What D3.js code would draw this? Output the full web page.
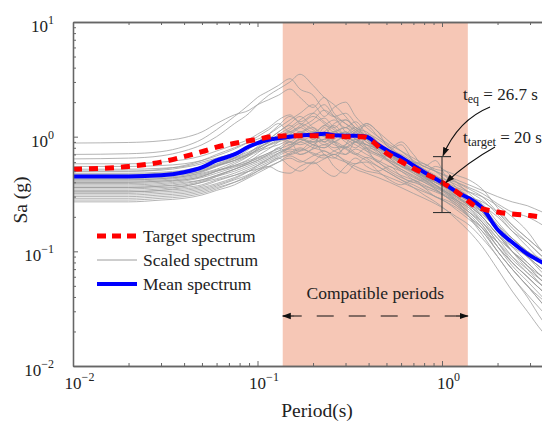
<!DOCTYPE html>
<html><head><meta charset="utf-8">
<script src="https://cdn.jsdelivr.net/npm/d3@7"></script>
<style>body{margin:0;background:#fff}svg{display:block}</style>
</head><body>
<svg id="c" width="542" height="424" style="font-family:'Liberation Serif','Times New Roman',Tinos,'DejaVu Serif',serif"></svg>
<script>
// ---- data ----
const periods = [0.01,0.02,0.03,0.04,0.05,0.06,0.075,0.09,0.1,0.115,0.13,0.15,0.17,0.2,0.23,0.26,0.3,0.34,0.39,0.45,0.52,0.6,0.7,0.8,0.92,1.05,1.2,1.4,1.65,2.0,2.4,2.9,3.5,4.2];
const scaledSpectra = [
[0.88,0.89,0.92,0.98,1.1,1.3,1.55,1.7,1.9,2.1,2.3,2.6,2.2,1.8,2.2,1.6,1.3,1.1,0.9,0.75,0.6,0.5,0.42,0.36,0.33,0.3,0.26,0.2,0.15,0.1,0.07,0.05,0.038,0.03],
[0.70,0.71,0.74,0.82,0.95,1.15,1.5,1.9,2.2,2.5,2.8,3.2,2.6,2.3,1.7,1.5,1.6,1.3,1.0,0.85,0.7,0.62,0.55,0.45,0.4,0.36,0.32,0.28,0.22,0.15,0.11,0.08,0.06,0.05],
[0.64,0.65,0.68,0.75,0.85,1.0,1.3,1.6,1.9,2.3,2.6,3.0,3.5,2.8,2.2,1.9,1.5,1.2,1.1,0.9,0.72,0.6,0.5,0.45,0.38,0.34,0.3,0.25,0.2,0.14,0.1,0.075,0.055,0.045],
[0.58,0.58,0.60,0.63,0.68,0.75,0.85,0.95,1.05,1.2,1.4,1.55,1.35,1.6,1.9,1.5,1.2,1.35,1.05,0.85,0.72,0.64,0.55,0.5,0.44,0.4,0.36,0.33,0.3,0.25,0.2,0.15,0.1,0.08],
[0.55,0.55,0.56,0.58,0.62,0.68,0.78,0.9,1.0,1.15,1.3,1.1,1.25,1.5,1.3,1.1,1.2,1.0,0.95,0.8,0.7,0.62,0.5,0.45,0.42,0.38,0.35,0.3,0.27,0.22,0.17,0.13,0.1,0.08],
[0.52,0.52,0.53,0.55,0.6,0.65,0.72,0.8,0.88,0.95,1.1,1.3,1.5,1.2,1.05,1.3,1.4,1.15,0.95,0.75,0.62,0.55,0.5,0.42,0.36,0.32,0.28,0.24,0.18,0.12,0.08,0.06,0.045,0.035],
[0.50,0.50,0.51,0.54,0.58,0.64,0.72,0.82,0.9,1.0,0.95,1.1,1.2,1.05,1.25,1.15,0.95,1.1,1.25,1.0,0.82,0.68,0.58,0.52,0.46,0.4,0.34,0.3,0.26,0.18,0.13,0.1,0.08,0.065],
[0.48,0.48,0.49,0.51,0.55,0.6,0.66,0.74,0.8,0.88,1.0,0.9,1.05,1.2,1.0,0.9,1.05,1.2,0.95,0.8,0.75,0.7,0.6,0.52,0.45,0.4,0.34,0.28,0.22,0.16,0.12,0.09,0.07,0.055],
[0.46,0.46,0.47,0.49,0.52,0.57,0.64,0.7,0.76,0.85,0.92,1.05,0.95,0.9,1.1,1.25,1.0,0.9,0.85,0.78,0.65,0.55,0.5,0.46,0.4,0.36,0.31,0.27,0.2,0.14,0.1,0.075,0.06,0.05],
[0.44,0.44,0.45,0.47,0.5,0.56,0.62,0.7,0.78,0.9,1.0,0.85,0.95,1.1,0.9,1.05,0.9,0.8,0.95,0.85,0.7,0.58,0.48,0.42,0.38,0.33,0.3,0.26,0.21,0.16,0.13,0.1,0.085,0.07],
[0.42,0.42,0.43,0.45,0.48,0.52,0.6,0.68,0.74,0.8,0.85,0.95,1.1,1.0,0.85,0.95,1.1,0.95,0.8,0.7,0.62,0.56,0.5,0.44,0.38,0.32,0.27,0.22,0.17,0.11,0.075,0.055,0.04,0.03],
[0.41,0.41,0.42,0.44,0.47,0.51,0.56,0.62,0.66,0.72,0.8,0.9,0.85,0.95,1.05,0.9,0.8,0.9,1.0,0.85,0.7,0.6,0.52,0.45,0.4,0.36,0.3,0.25,0.2,0.14,0.11,0.09,0.07,0.06],
[0.40,0.40,0.41,0.42,0.45,0.5,0.56,0.64,0.72,0.85,0.95,1.1,1.0,0.9,0.95,1.1,0.95,0.85,0.75,0.68,0.6,0.52,0.45,0.4,0.35,0.3,0.25,0.21,0.16,0.1,0.07,0.05,0.035,0.025],
[0.38,0.38,0.39,0.41,0.44,0.48,0.54,0.6,0.65,0.72,0.78,0.85,0.95,0.85,0.8,0.9,1.0,0.9,0.78,0.7,0.66,0.58,0.5,0.46,0.42,0.38,0.33,0.29,0.25,0.2,0.15,0.12,0.09,0.075],
[0.37,0.37,0.38,0.40,0.42,0.46,0.52,0.58,0.62,0.7,0.75,0.8,0.9,1.0,0.9,0.8,0.85,0.95,0.85,0.72,0.6,0.52,0.46,0.41,0.37,0.33,0.28,0.23,0.18,0.12,0.085,0.065,0.05,0.04],
[0.36,0.36,0.37,0.38,0.41,0.45,0.5,0.56,0.6,0.66,0.72,0.78,0.75,0.85,0.95,0.85,0.78,0.7,0.8,0.75,0.65,0.55,0.48,0.43,0.4,0.35,0.3,0.26,0.22,0.17,0.13,0.1,0.08,0.065],
[0.35,0.35,0.36,0.37,0.40,0.43,0.48,0.54,0.58,0.64,0.7,0.8,0.9,0.8,0.75,0.7,0.8,0.9,0.75,0.6,0.52,0.46,0.42,0.38,0.34,0.31,0.27,0.22,0.17,0.11,0.08,0.06,0.045,0.035],
[0.33,0.33,0.34,0.35,0.37,0.41,0.46,0.52,0.56,0.62,0.68,0.75,0.7,0.78,0.85,0.75,0.7,0.78,0.7,0.62,0.55,0.5,0.44,0.4,0.36,0.33,0.29,0.25,0.2,0.14,0.1,0.08,0.06,0.05],
[0.32,0.32,0.33,0.34,0.36,0.39,0.44,0.5,0.54,0.6,0.66,0.7,0.78,0.72,0.68,0.75,0.82,0.72,0.65,0.55,0.48,0.42,0.38,0.34,0.3,0.27,0.23,0.19,0.15,0.1,0.07,0.05,0.035,0.025],
[0.30,0.30,0.31,0.32,0.34,0.37,0.42,0.47,0.52,0.58,0.64,0.72,0.8,0.7,0.65,0.7,0.62,0.58,0.66,0.6,0.5,0.44,0.4,0.37,0.34,0.3,0.26,0.22,0.18,0.13,0.1,0.075,0.055,0.045],
[0.29,0.29,0.30,0.31,0.33,0.36,0.4,0.45,0.5,0.55,0.6,0.65,0.6,0.68,0.75,0.66,0.6,0.55,0.5,0.48,0.44,0.4,0.36,0.33,0.3,0.27,0.24,0.2,0.16,0.11,0.08,0.06,0.045,0.035],
[0.27,0.27,0.28,0.29,0.31,0.34,0.38,0.44,0.48,0.54,0.6,0.68,0.62,0.58,0.64,0.7,0.6,0.52,0.48,0.44,0.4,0.36,0.32,0.29,0.26,0.23,0.2,0.17,0.13,0.09,0.06,0.042,0.03,0.022],
[0.47,0.47,0.48,0.5,0.53,0.58,0.65,0.72,0.8,0.9,1.0,1.15,1.3,1.15,1.0,1.1,1.2,1.05,0.9,0.8,0.72,0.65,0.58,0.5,0.45,0.42,0.4,0.36,0.32,0.26,0.22,0.2,0.17,0.14],
[0.43,0.43,0.44,0.46,0.5,0.55,0.62,0.72,0.82,0.95,1.1,1.25,1.1,1.3,1.45,1.2,1.05,1.15,1.3,1.1,0.9,0.75,0.62,0.55,0.5,0.45,0.4,0.35,0.3,0.22,0.16,0.12,0.09,0.07],
[0.39,0.39,0.40,0.42,0.45,0.5,0.58,0.68,0.78,0.9,1.05,1.2,1.4,1.6,1.35,1.2,1.4,1.2,1.0,0.82,0.68,0.58,0.5,0.44,0.38,0.33,0.28,0.24,0.19,0.13,0.09,0.065,0.05,0.04],
[0.34,0.34,0.35,0.37,0.4,0.45,0.52,0.6,0.68,0.78,0.9,1.05,1.2,1.4,1.7,1.5,1.3,1.15,1.0,0.85,0.7,0.6,0.52,0.46,0.4,0.36,0.32,0.27,0.22,0.16,0.12,0.09,0.07,0.055],
[0.31,0.31,0.32,0.33,0.35,0.38,0.43,0.5,0.56,0.64,0.72,0.82,0.95,0.85,0.8,0.9,0.8,0.7,0.62,0.55,0.48,0.42,0.36,0.31,0.27,0.23,0.19,0.15,0.11,0.07,0.045,0.03,0.02,0.015],
[0.45,0.45,0.46,0.48,0.51,0.56,0.62,0.7,0.76,0.84,0.9,0.98,1.1,0.95,0.9,1.0,1.1,0.95,0.85,0.78,0.7,0.64,0.6,0.55,0.5,0.46,0.42,0.38,0.34,0.3,0.27,0.25,0.22,0.2],
[0.36,0.36,0.37,0.39,0.42,0.46,0.52,0.58,0.62,0.68,0.75,0.9,0.7,0.8,1.2,0.9,0.7,0.95,1.3,1.1,0.8,0.9,0.7,0.55,0.62,0.45,0.36,0.3,0.22,0.15,0.1,0.07,0.05,0.04],
[0.40,0.40,0.41,0.43,0.46,0.5,0.55,0.6,0.64,0.7,0.8,0.7,0.75,0.9,0.7,0.65,0.85,1.1,0.8,0.6,0.75,0.85,0.6,0.48,0.55,0.5,0.4,0.32,0.25,0.17,0.12,0.09,0.065,0.05],
[0.33,0.33,0.34,0.36,0.38,0.42,0.46,0.5,0.52,0.55,0.5,0.48,0.55,0.6,0.5,0.45,0.55,0.65,0.55,0.5,0.55,0.45,0.4,0.42,0.35,0.3,0.28,0.2,0.14,0.09,0.06,0.04,0.025,0.018],
[0.28,0.28,0.29,0.3,0.32,0.35,0.4,0.46,0.5,0.58,0.65,0.55,0.5,0.6,0.7,0.55,0.48,0.58,0.6,0.5,0.42,0.38,0.42,0.36,0.3,0.28,0.25,0.2,0.16,0.12,0.09,0.07,0.055,0.045],
[0.50,0.50,0.52,0.56,0.62,0.7,0.8,0.9,0.95,1.05,1.2,1.4,1.6,1.9,1.5,1.8,2.0,1.5,1.2,1.0,0.85,0.75,0.65,0.58,0.52,0.5,0.46,0.42,0.35,0.24,0.17,0.13,0.1,0.08],
[0.42,0.42,0.43,0.45,0.49,0.55,0.65,0.78,0.9,1.05,1.25,1.5,1.3,1.1,1.25,1.4,1.1,0.9,1.05,0.95,0.8,0.66,0.6,0.58,0.5,0.42,0.38,0.33,0.28,0.21,0.15,0.11,0.08,0.06]
];
const meanSpectrum = [0.45,0.45,0.46,0.49,0.54,0.62,0.70,0.82,0.88,0.94,0.97,1.0,1.02,1.04,1.06,1.03,1.02,1.02,1.0,0.85,0.74,0.66,0.56,0.49,0.43,0.38,0.33,0.29,0.24,0.155,0.12,0.095,0.08,0.068];
const targetPeriods = [0.01,0.02,0.03,0.04,0.05,0.06,0.08,0.1,0.12,0.15,0.2,0.25,0.3,0.37,0.5,0.7,1.0,1.3,1.5,2.0,3.0,4.2];
const targetSpectrum = [0.52,0.55,0.6,0.67,0.74,0.81,0.89,0.95,1.0,1.02,1.02,1.01,1.0,1.0,0.72,0.53,0.4,0.3,0.25,0.22,0.205,0.19];
const compatibleRange = [0.137, 1.38];
const errorBar = {period: 1.0, low: 0.218, high: 0.67};
const xTicksMajor = [0.01, 0.1, 1];
const yTicksMajor = [0.01, 0.1, 1, 10];
const legendLabels = ["Target spectrum", "Scaled spectrum", "Mean spectrum"];

// ---- chart ----
const FONT = "'Liberation Serif','Times New Roman',Tinos,'DejaVu Serif',serif";
const svg = d3.select("#c");
const L = 73, T = 22, B = 366;
const x = d3.scaleLog().domain([0.01, 10]).range([L, L + 3*184.5]);
const y = d3.scaleLog().domain([0.01, 10]).range([B, T]);

const defs = svg.append("defs");
defs.append("clipPath").attr("id","clip")
  .append("rect").attr("x",L).attr("y",T).attr("width",600).attr("height",B-T);
defs.append("marker").attr("id","ah").attr("viewBox","0 0 10 10").attr("refX",9).attr("refY",5)
  .attr("markerWidth",9).attr("markerHeight",9).attr("markerUnits","userSpaceOnUse").attr("orient","auto")
  .append("path").attr("d","M0,1.5 L10,5 L0,8.5 Z").attr("fill","#111");

const plot = svg.append("g").attr("clip-path","url(#clip)");
plot.append("rect")
  .attr("x", x(compatibleRange[0])).attr("y", T)
  .attr("width", x(compatibleRange[1]) - x(compatibleRange[0])).attr("height", B - T)
  .attr("fill", "#f6c7b6");

const line = d3.line().x(d => x(d[0])).y(d => y(d[1])).curve(d3.curveMonotoneX);
scaledSpectra.forEach(s => {
  plot.append("path").datum(periods.map((p,i)=>[p,s[i]])).attr("d", line)
    .attr("fill","none").attr("stroke","#9c9c9c").attr("stroke-width",0.8).attr("stroke-opacity",0.95);
});
plot.append("path").datum(periods.map((p,i)=>[p,meanSpectrum[i]])).attr("d", line)
  .attr("fill","none").attr("stroke","#0000ff").attr("stroke-width",4);
plot.append("path").datum(targetPeriods.map((p,i)=>[p,targetSpectrum[i]])).attr("d", line)
  .attr("fill","none").attr("stroke","#ff0000").attr("stroke-width",5).attr("stroke-dasharray","9,7");

// error bar
const ex = x(errorBar.period);
const eb = svg.append("g").attr("stroke","#333").attr("stroke-width",1.1);
eb.append("line").attr("x1",ex).attr("x2",ex).attr("y1",y(errorBar.high)).attr("y2",y(errorBar.low));
eb.append("line").attr("x1",ex-9).attr("x2",ex+9).attr("y1",y(errorBar.high)).attr("y2",y(errorBar.high));
eb.append("line").attr("x1",ex-9).attr("x2",ex+9).attr("y1",y(errorBar.low)).attr("y2",y(errorBar.low));

// axes
function supLabel(sel){
  sel.each(function(d){
    const t = d3.select(this); const e = Math.round(Math.log10(d));
    t.text(null);
    t.append("tspan").text("10");
    t.append("tspan").attr("font-size","12px").attr("dy","-8").text(e<0 ? "\u2212"+(-e) : String(e));
  });
}
function minors(){ const a=[]; for(let e=-2;e<1;e++) for(let k=2;k<10;k++) a.push(k*Math.pow(10,e)); return a; }
const axColor = "#666";
function styleAxis(g){ g.attr("font-family",null); g.select(".domain").attr("stroke",axColor).attr("stroke-width",1.3); g.selectAll(".tick line").attr("stroke",axColor); }

const xb = svg.append("g").attr("transform",`translate(0,${B})`)
  .call(d3.axisBottom(x).tickValues(xTicksMajor).tickSize(-5).tickPadding(11).tickSizeOuter(0));
styleAxis(xb);
xb.selectAll(".tick text").attr("font-size","17px").attr("fill","#222").style("font-family",FONT).attr("dx","6").call(supLabel);
svg.append("g").attr("transform",`translate(0,${B})`).call(d3.axisBottom(x).tickValues(minors().concat([10])).tickSize(-3).tickFormat("").tickSizeOuter(0)).call(styleAxis);
svg.append("g").attr("transform",`translate(0,${T})`).call(d3.axisTop(x).tickValues(xTicksMajor).tickSize(-5).tickFormat("").tickSizeOuter(0)).call(styleAxis);
svg.append("g").attr("transform",`translate(0,${T})`).call(d3.axisTop(x).tickValues(minors()).tickSize(-3).tickFormat("").tickSizeOuter(0)).call(styleAxis);

const yl = svg.append("g").attr("transform",`translate(${L},0)`)
  .call(d3.axisLeft(y).tickValues(yTicksMajor).tickSize(-5).tickPadding(19).tickSizeOuter(0));
styleAxis(yl);
yl.selectAll(".tick text").attr("font-size","17px").attr("fill","#222").style("font-family",FONT).attr("dy","0.55em").call(supLabel);
svg.append("g").attr("transform",`translate(${L},0)`).call(d3.axisLeft(y).tickValues(minors()).tickSize(-3).tickFormat("").tickSizeOuter(0)).call(styleAxis);

function txt(xp, yp, s, size){ return svg.append("text").attr("x",xp).attr("y",yp).attr("font-size",size).attr("fill","#222").style("font-family",FONT).text(s); }

// axis titles
txt(317,417,"Period(s)","19.5px").attr("text-anchor","middle");
svg.append("text").attr("transform","translate(27,200) rotate(-90)").attr("text-anchor","middle").attr("font-size","19.5px").attr("fill","#222").style("font-family",FONT).text("Sa (g)");

// legend
const lg = svg.append("g");
const ly = [236, 260, 284];
lg.append("line").attr("x1",97).attr("x2",137).attr("y1",ly[0]).attr("y2",ly[0]).attr("stroke","#ff0000").attr("stroke-width",5).attr("stroke-dasharray","9,6");
lg.append("line").attr("x1",97).attr("x2",137).attr("y1",ly[1]).attr("y2",ly[1]).attr("stroke","#9c9c9c").attr("stroke-width",1);
lg.append("line").attr("x1",97).attr("x2",137).attr("y1",ly[2]).attr("y2",ly[2]).attr("stroke","#0000ff").attr("stroke-width",4);
legendLabels.forEach((t,i)=> txt(143, ly[i]+5.5, t, "17.5px"));

// compatible periods annotation
const cx0 = x(compatibleRange[0]), cx1 = x(compatibleRange[1]);
txt((cx0+cx1)/2, 299, "Compatible periods", "17.5px").attr("text-anchor","middle");
const ay = 316;
svg.append("line").attr("x1",cx0+12).attr("x2",cx1-12).attr("y1",ay).attr("y2",ay).attr("stroke","#111").attr("stroke-width",1.2).attr("stroke-dasharray","7,15,17,15,17,15,17,15,17,15,17,15");
svg.append("line").attr("x1",cx0+12).attr("x2",cx0).attr("y1",ay).attr("y2",ay).attr("stroke","#111").attr("stroke-width",1.2).attr("marker-end","url(#ah)");
svg.append("line").attr("x1",cx1-12).attr("x2",cx1).attr("y1",ay).attr("y2",ay).attr("stroke","#111").attr("stroke-width",1.2).attr("marker-end","url(#ah)");

// t annotations
const t1 = txt(463,100,"","17px");
t1.append("tspan").text("t");
t1.append("tspan").attr("font-size","12px").attr("dy","3").text("eq");
t1.append("tspan").attr("dy","-3").text(" = 26.7 s");
const t2 = txt(463,143,"","17px");
t2.append("tspan").text("t");
t2.append("tspan").attr("font-size","12.5px").attr("dy","3").text("target");
t2.append("tspan").attr("dy","-3").text(" = 20 s");

const ay1 = y(errorBar.high), ay2 = y(0.4);
svg.append("path").attr("d",`M490,107 Q458,120 ${ex+1},${ay1-1}`).attr("fill","none").attr("stroke","#111").attr("stroke-width",1.1).attr("marker-end","url(#ah)");
svg.append("path").attr("d",`M495,147 Q468,162 ${ex+4},${ay2}`).attr("fill","none").attr("stroke","#111").attr("stroke-width",1.1).attr("marker-end","url(#ah)");
</script>
</body></html>
